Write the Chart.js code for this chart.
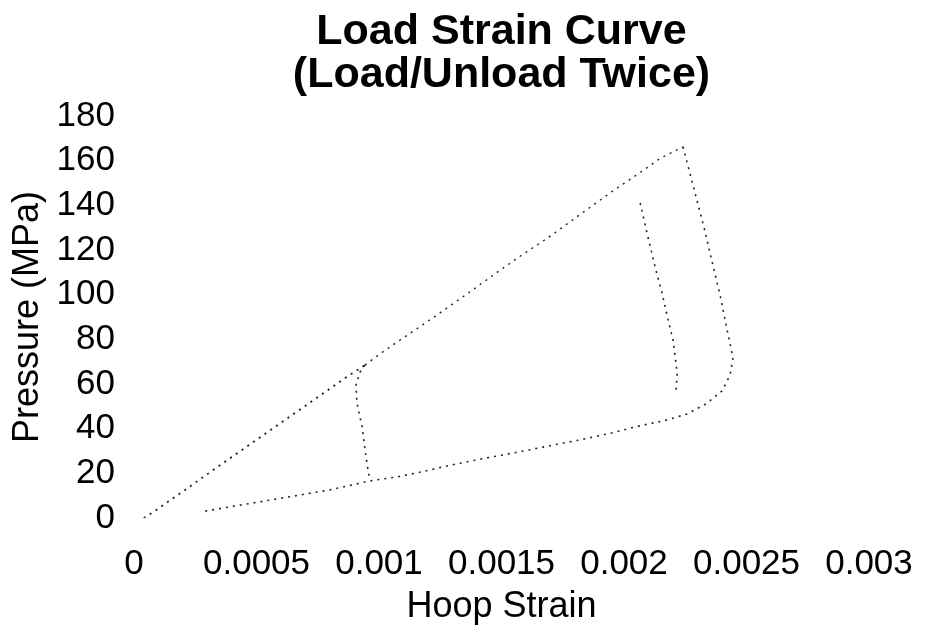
<!DOCTYPE html>
<html>
<head>
<meta charset="utf-8">
<script src="https://cdn.jsdelivr.net/npm/chart.js@4/dist/chart.umd.min.js"></script>
<style>
  html, body { margin: 0; padding: 0; background: #fff; }
  #wrap { width: 936px; height: 632px; }
</style>
</head>
<body>
<div id="wrap"><canvas id="strainChart"></canvas></div>
<script>
// first loading, origin up to ~68 MPa
const load1Strain   = [0.00004, 0.000086, 0.000159, 0.000208, 0.000257, 0.000351, 0.000461, 0.000555, 0.000678, 0.000788, 0.000869, 0.000943];
const load1Pressure = [0, 3.2, 8.8, 12.5, 16.4, 23.6, 32.0, 39.2, 48.6, 57.0, 63.2, 68.5];

// first unloading, nearly vertical drop
const unload1Strain   = [0.000943, 0.000923, 0.000906, 0.00091, 0.000931, 0.000943, 0.000955, 0.000963];
const unload1Pressure = [68.5, 65.4, 59.6, 51.5, 40.8, 30.5, 21.5, 17.0];

// second loading up to the peak
const load2Strain   = [0.000943, 0.001004, 0.001074, 0.001139, 0.001229, 0.001359, 0.001482, 0.001576, 0.001686, 0.001955, 0.002037, 0.002106, 0.002147, 0.002241];
const load2Pressure = [68.5, 73.5, 78.8, 83.6, 90.3, 100.3, 110.0, 117.2, 125.2, 146.5, 152.5, 157.8, 161.0, 166.2];

// inner branch near 0.0021
const innerStrain   = [0.002066, 0.002094, 0.002127, 0.002155, 0.00218, 0.0022, 0.002208, 0.002217, 0.002212];
const innerPressure = [141.1, 127.6, 112.4, 100.8, 88.7, 79.7, 73.0, 64.9, 56.0];

// second unloading, outer curve then back along the bottom
const unload2Strain   = [0.002241, 0.002257, 0.002327, 0.002351, 0.002392, 0.002421, 0.002445, 0.002433, 0.0024, 0.002335, 0.002257, 0.002176, 0.002066, 0.001955, 0.001821, 0.001727, 0.001617, 0.001523, 0.001425, 0.00129, 0.00118, 0.001074, 0.000963, 0.0008, 0.000608, 0.000543, 0.000392, 0.000282];
const unload2Pressure = [166.2, 159.4, 129.9, 118.7, 99.9, 84.2, 71.7, 64.0, 56.9, 51.1, 46.6, 43.9, 41.3, 38.2, 35.0, 33.0, 30.6, 28.6, 26.6, 23.6, 20.8, 18.4, 16.6, 12.6, 9.0, 7.8, 5.0, 2.9];

const xTickLabels = ['0', '0.0005', '0.001', '0.0015', '0.002', '0.0025', '0.003'];
const yTickLabels = ['0', '20', '40', '60', '80', '100', '120', '140', '160', '180'];

const fontName = '"Liberation Sans", Arial, Helvetica, sans-serif';

function toPoints(xs, ys) {
    return xs.map((x, i) => ({ x: x, y: ys[i] }));
}

function segment(xs, ys, width) {
    return {
        data: toPoints(xs, ys),
        showLine: true,
        borderColor: '#222',
        borderWidth: width,
        borderDash: [2, 5],
        pointRadius: 0,
        tension: 0
    };
}

const ctx = document.getElementById('strainChart').getContext('2d');

new Chart(ctx, {
    type: 'scatter',
    data: {
        datasets: [
            segment(load1Strain, load1Pressure, 1.8),
            segment(unload1Strain, unload1Pressure, 1.6),
            segment(load2Strain, load2Pressure, 1.4),
            segment(innerStrain, innerPressure, 1.6),
            segment(unload2Strain, unload2Pressure, 1.6)
        ]
    },
    options: {
        responsive: true,
        maintainAspectRatio: false,
        animation: false,
        layout: { padding: { left: 0, right: 67, top: 0, bottom: 0 } },
        plugins: {
            legend: { display: false },
            tooltip: { enabled: false },
            title: {
                display: true,
                fullSize: false,
                text: ['Load Strain Curve', '(Load/Unload Twice)'],
                color: '#000',
                font: { family: fontName, size: 43, weight: 'bold', lineHeight: 1.0 },
                padding: { top: 11, bottom: 19 }
            }
        },
        scales: {
            x: {
                type: 'linear',
                min: 0,
                max: 0.003,
                grid: { display: false },
                border: { display: false },
                ticks: {
                    stepSize: 0.0005,
                    autoSkip: false,
                    maxRotation: 0,
                    padding: 17,
                    color: '#000',
                    font: { family: fontName, size: 35 },
                    callback: (value) => xTickLabels[Math.round(value / 0.0005)]
                },
                title: {
                    display: true,
                    text: 'Hoop Strain',
                    color: '#000',
                    font: { family: fontName, size: 36 },
                    padding: { top: 0, bottom: 3 }
                },
                afterFit: (scale) => { scale.height = 114; }
            },
            y: {
                min: 0,
                max: 180,
                grid: { display: false },
                border: { display: false },
                ticks: {
                    stepSize: 20,
                    autoSkip: false,
                    padding: 11,
                    color: '#000',
                    font: { family: fontName, size: 35 },
                    callback: (value) => yTickLabels[Math.round(value / 20)]
                },
                title: {
                    display: true,
                    text: 'Pressure (MPa)',
                    color: '#000',
                    font: { family: fontName, size: 36 },
                    padding: { top: 6, bottom: 0 }
                },
                afterFit: (scale) => { scale.width = 134; }
            }
        }
    }
});
</script>
</body>
</html>
